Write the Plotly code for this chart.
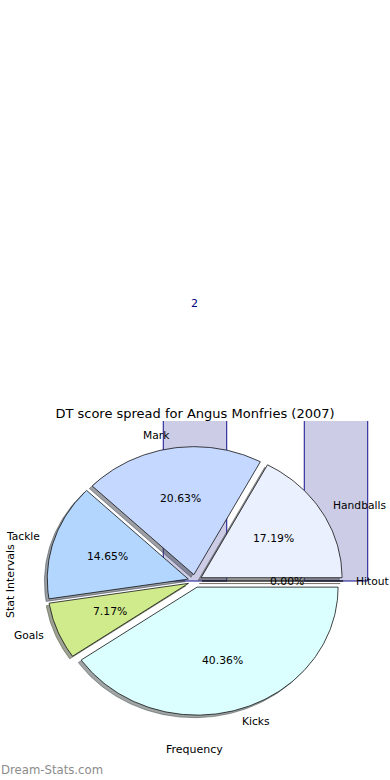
import numpy as np
import plotly.graph_objects as go

# ---------------- data ----------------
stat_names = ["Handballs", "Mark", "Tackle", "Goals", "Kicks", "Hitout"]
stat_share = [17.19, 20.63, 14.65, 7.17, 40.36, 0.00]
slice_colors = ["#ebf0fe", "#c5d8ff", "#b3d6ff", "#d0eb8c", "#dbffff", "#ffe4c4"]

interval_pos = [0, 1]
interval_freq = [2, 5]

title_text = "DT score spread for Angus Monfries (2007)"
x_title = "Frequency"
y_title = "Stat Intervals"
watermark = "Dream-Stats.com"

# ---------------- style ----------------
FONT = "DejaVu Sans"
EXPLODE = 0.05
LABEL_DIST = 1.1
PCT_DIST = 0.6
SHADOW_OFF = 0.02
BAR_WIDTH = 0.45
AX_RANGE = [-1.25, 1.25]
X_DOMAIN = [18.75 / 390, 371.25 / 390]
Y_DOMAIN = [1 - 741 / 780, 1 - 421 / 780]


def hex_rgb(h):
    h = h.lstrip("#")
    return tuple(int(h[i:i + 2], 16) for i in (0, 2, 4))


def y_to_paper(v):
    f = (v - AX_RANGE[0]) / (AX_RANGE[1] - AX_RANGE[0])
    return Y_DOMAIN[0] + f * (Y_DOMAIN[1] - Y_DOMAIN[0])


def x_to_paper(v):
    f = (v - AX_RANGE[0]) / (AX_RANGE[1] - AX_RANGE[0])
    return X_DOMAIN[0] + f * (X_DOMAIN[1] - X_DOMAIN[0])


fig = go.Figure()

# bars (histogram of stat intervals)
fig.add_trace(go.Bar(
    x=interval_pos, y=interval_freq, width=BAR_WIDTH,
    marker=dict(color="rgba(0,0,128,0.2)", line=dict(color="#10108f", width=1)),
    hoverinfo="skip", showlegend=False,
))

# pie geometry built from data
total = float(sum(stat_share))
wedges = []
theta = 0.0
for name, val, col in zip(stat_names, stat_share, slice_colors):
    frac = val / total
    t1 = theta
    t2 = theta + 360.0 * frac
    mid = np.deg2rad((t1 + t2) / 2.0)
    cx, cy = EXPLODE * np.cos(mid), EXPLODE * np.sin(mid)
    ang = np.deg2rad(np.linspace(t1, t2, max(2, int(abs(t2 - t1)) + 2)))
    xs = np.concatenate([[cx], cx + np.cos(ang), [cx]])
    ys = np.concatenate([[cy], cy + np.sin(ang), [cy]])
    wedges.append((name, frac, col, mid, cx, cy, xs, ys))
    theta = t2

# shadows (all below wedges)
for name, frac, col, mid, cx, cy, xs, ys in wedges:
    r, g, b = hex_rgb(col)
    sc = "rgba(%d,%d,%d,0.5)" % (0.3 * r, 0.3 * g, 0.3 * b)
    fig.add_trace(go.Scatter(
        x=xs - SHADOW_OFF, y=ys - SHADOW_OFF, mode="lines", fill="toself",
        fillcolor=sc, line=dict(color=sc, width=1),
        hoverinfo="skip", showlegend=False,
    ))

# wedges
for name, frac, col, mid, cx, cy, xs, ys in wedges:
    fig.add_trace(go.Scatter(
        x=xs, y=ys, mode="lines", fill="toself",
        fillcolor=col, line=dict(color="#111111", width=0.8),
        hoverinfo="skip", showlegend=False,
    ))

annotations = []
for name, frac, col, mid, cx, cy, xs, ys in wedges:
    xt = cx + LABEL_DIST * np.cos(mid)
    yt = cy + LABEL_DIST * np.sin(mid)
    right = xt > 0
    annotations.append(dict(
        x=xt, y=yt, xref="x", yref="y", text=name, showarrow=False,
        xanchor="left" if right else "right", yanchor="middle", borderpad=0,
        xshift=-2 if right else 1,
        font=dict(family=FONT, size=10.7, color="black"),
    ))
    xp = cx + PCT_DIST * np.cos(mid)
    yp = cy + PCT_DIST * np.sin(mid)
    annotations.append(dict(
        x=xp, y=yp, xref="x", yref="y", text="%.2f%%" % (frac * 100),
        showarrow=False, xanchor="center", yanchor="middle",
        font=dict(family=FONT, size=10.8, color="black"),
    ))

# bar value labels (placed in paper space so they can sit above the axes)
for xv, fv in zip(interval_pos, interval_freq):
    py = y_to_paper(fv * 1.05)
    if py <= 1.0:
        annotations.append(dict(
            x=x_to_paper(xv), y=py, xref="paper", yref="paper", text=str(fv),
            showarrow=False, xanchor="center", yanchor="bottom",
            font=dict(family=FONT, size=11, color="#000080"),
        ))

# axis titles
annotations.append(dict(
    x=10 / 390, y=0.5, xref="paper", yref="y domain", text=y_title, showarrow=False,
    textangle=-90, xanchor="center", yanchor="middle",
    font=dict(family=FONT, size=11, color="black"),
))
annotations.append(dict(
    x=0.5, y=1 - 749 / 780, xref="x domain", yref="paper", text=x_title,
    showarrow=False, xanchor="center", yanchor="middle",
    font=dict(family=FONT, size=11, color="black"),
))
# watermark
annotations.append(dict(
    x=0, y=1 - 770 / 780, xref="paper", yref="paper", text=watermark,
    showarrow=False, xanchor="left", yanchor="middle", borderpad=0,
    font=dict(family=FONT, size=11.7, color="#8c8c8c"),
))

fig.update_layout(
    width=390, height=780,
    margin=dict(l=0, r=0, t=0, b=0),
    paper_bgcolor="white", plot_bgcolor="rgba(0,0,0,0)",
    showlegend=False, hovermode=False,
    title=dict(text=title_text, x=0.5, xanchor="center", xref="paper",
               y=1 - 413 / 780, yref="paper", yanchor="middle",
               font=dict(family=FONT, size=13, color="black")),
    xaxis=dict(range=AX_RANGE, domain=X_DOMAIN, visible=False, fixedrange=True),
    yaxis=dict(range=AX_RANGE, domain=Y_DOMAIN, visible=False, fixedrange=True),
    annotations=annotations,
)

fig.write_html("out.html")
